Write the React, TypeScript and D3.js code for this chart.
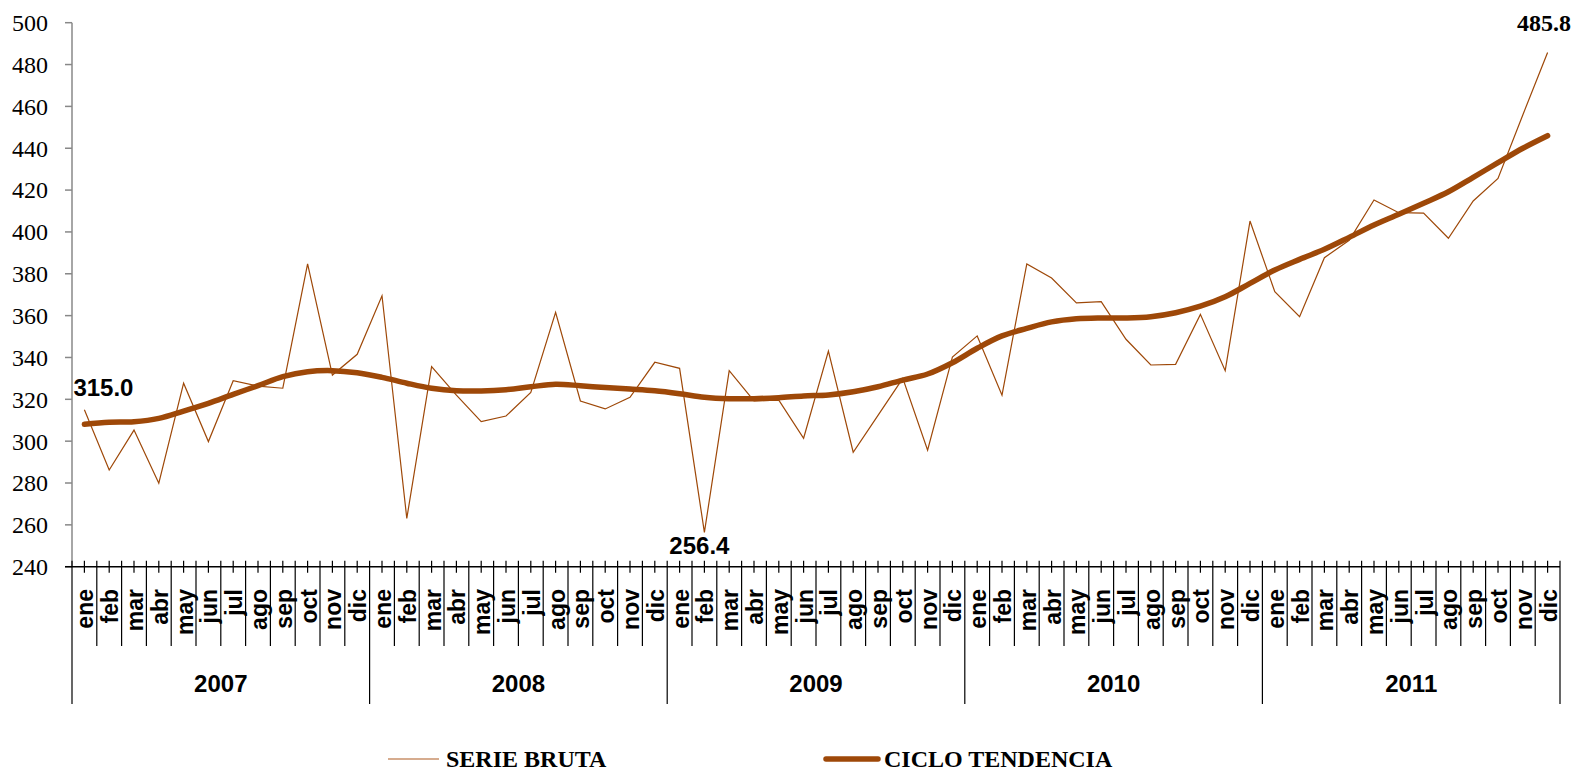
import React from 'react';
import * as d3 from 'd3';

const years = ['2007', '2008', '2009', '2010', '2011'];
const months = ['ene', 'feb', 'mar', 'abr', 'may', 'jun', 'jul', 'ago', 'sep', 'oct', 'nov', 'dic'];

const serieBruta = [
  315.0, 286.2, 305.3, 279.9, 327.7, 299.8, 328.9, 326.3, 325.3, 384.7, 331.6, 341.5,
  369.5, 263.1, 335.6, 322.0, 309.3, 312.0, 323.3, 361.6, 319.2, 315.4, 321.0, 337.7,
  334.8, 256.4, 333.7, 319.2, 319.6, 301.4, 343.1, 294.7, 312.3, 330.0, 295.7, 340.2,
  350.3, 322.0, 384.7, 378.0, 366.1, 366.7, 348.7, 336.4, 336.7, 360.6, 333.7, 405.2,
  371.4, 359.5, 387.7, 396.0, 415.3, 409.2, 409.0, 397.0, 414.8, 425.6, 455.9, 485.8,
];

const cicloTendencia = [
  308.1, 309.0, 309.3, 310.9, 314.4, 318.1, 322.4, 326.5, 330.8, 333.2, 333.7, 332.7,
  330.5, 327.7, 325.3, 324.1, 324.0, 324.6, 326.0, 327.2, 326.5, 325.6, 324.9, 324.1,
  322.7, 321.0, 320.3, 320.3, 320.8, 321.6, 322.1, 323.6, 326.0, 329.2, 332.1, 337.5,
  344.4, 350.3, 353.9, 357.0, 358.5, 358.9, 358.9, 359.5, 361.4, 364.5, 369.0, 375.4,
  381.8, 386.9, 391.7, 397.4, 403.3, 408.4, 413.7, 419.2, 426.1, 433.1, 440.0, 446.0,
];

const yTicks = [240, 260, 280, 300, 320, 340, 360, 380, 400, 420, 440, 460, 480, 500];

const W = 1574;
const H = 773;
const left = 72;
const right = 1560;
const top = 22.7;
const bottom = 566.7;

const brown = '#9E4808';
const sans = 'Arial, "Liberation Sans", sans-serif';
const serif = '"Times New Roman", "Liberation Serif", serif';

export default function App() {
  const idx = d3.range(years.length * months.length);
  const x = d3.scaleBand<number>().domain(idx).range([left, right]).padding(0);
  const bw = x.bandwidth();
  const cx = (i: number) => (x(i) as number) + bw / 2;
  const y = d3.scaleLinear().domain([240, 500]).range([bottom, top]);

  const thin = d3.line<number>().x((_, i) => cx(i)).y(d => y(d));
  const smooth = d3.line<number>().x((_, i) => cx(i)).y(d => y(d)).curve(d3.curveCatmullRom.alpha(0.5));

  const lastI = serieBruta.length - 1;
  const minI = serieBruta.indexOf(d3.min(serieBruta) as number);

  return (
    <div style={{ position: 'fixed', left: 0, top: 0 }}>
      <svg width={W} height={H} style={{ display: 'block', background: '#fff' }}>
        {/* y axis */}
        <line x1={left} x2={left} y1={top} y2={bottom} stroke="#888" strokeWidth={1.5} />
        {yTicks.map(t => (
          <g key={t}>
            <line x1={left - 7} x2={left} y1={y(t)} y2={y(t)} stroke="#888" strokeWidth={1.5} />
            <text x={48} y={y(t)} dy="0.35em" textAnchor="end" fontFamily={serif} fontSize={24} fill="#000">{t}</text>
          </g>
        ))}

        {/* x axis */}
        <line x1={left - 7} x2={right} y1={bottom} y2={bottom} stroke="#000" strokeWidth={1.5} />
        {idx.map(i => (
          <line key={'mn' + i} x1={cx(i)} x2={cx(i)} y1={bottom - 6} y2={bottom + 6} stroke="#000" strokeWidth={1.2} />
        ))}
        {d3.range(idx.length + 1).map(k => {
          const xx = left + k * bw;
          const isYear = k % 12 === 0;
          return (
            <line key={'mj' + k} x1={xx} x2={xx} y1={bottom - 6} y2={isYear ? 704 : 646} stroke="#000" strokeWidth={1.2} />
          );
        })}
        {idx.map(i => (
          <text key={'ml' + i} transform={`translate(${cx(i) + 1},589) rotate(-90)`} textAnchor="end" dominantBaseline="central"
            fontFamily={sans} fontWeight="bold" fontSize={23} fill="#000">{months[i % 12]}</text>
        ))}
        {years.map((yr, j) => (
          <text key={yr} x={left + (j * 12 + 6) * bw} y={684} dy="0.35em" textAnchor="middle"
            fontFamily={sans} fontWeight="bold" fontSize={24} fill="#000">{yr}</text>
        ))}

        {/* series */}
        <path d={thin(serieBruta) || ''} fill="none" stroke={brown} strokeWidth={1.2} strokeLinejoin="miter" />
        <path d={smooth(cicloTendencia) || ''} fill="none" stroke={brown} strokeWidth={5.5} strokeLinecap="round" />

        {/* data labels */}
        <text x={cx(0) - 11} y={y(serieBruta[0]) - 22} dy="0.35em" fontFamily={sans} fontWeight="bold" fontSize={24} fill="#000">
          {serieBruta[0].toFixed(1)}
        </text>
        <text x={cx(minI) - 5} y={y(serieBruta[minI]) + 13} dy="0.35em" textAnchor="middle" fontFamily={sans} fontWeight="bold" fontSize={24} fill="#000">
          {serieBruta[minI].toFixed(1)}
        </text>
        <text x={1571} y={y(serieBruta[lastI]) - 30} dy="0.35em" textAnchor="end" fontFamily={serif} fontWeight="bold" fontSize={24} fill="#000">
          {serieBruta[lastI].toFixed(1)}
        </text>

        {/* legend */}
        <line x1={388} x2={439} y1={759} y2={759} stroke="#C8906A" strokeWidth={1.5} />
        <text x={446} y={767} fontFamily={serif} fontWeight="bold" fontSize={24} fill="#000">SERIE BRUTA</text>
        <line x1={826} x2={878} y1={759} y2={759} stroke={brown} strokeWidth={5.5} strokeLinecap="round" />
        <text x={884} y={767} fontFamily={serif} fontWeight="bold" fontSize={24} fill="#000">CICLO TENDENCIA</text>
      </svg>
    </div>
  );
}
